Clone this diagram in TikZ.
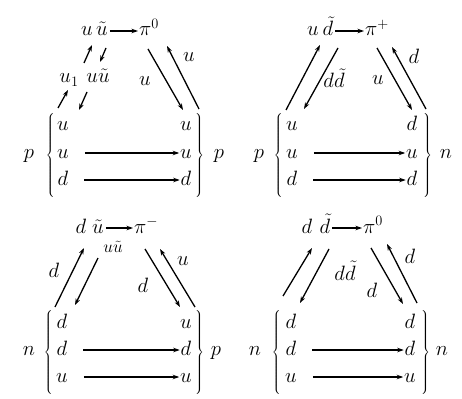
\documentclass[tikz,border=0pt]{standalone}
\usetikzlibrary{arrows.meta}
\newcommand\mylbr{$\left\{\vrule height 41pt depth 41pt width 0pt\right.$}
\newcommand\myrbr{$\left.\vrule height 41pt depth 41pt width 0pt\right\}$}
\begin{document}
\begin{tikzpicture}[x=1pt,y=-1pt,
  every node/.style={inner sep=0pt,outer sep=0pt},
  q/.style={anchor=base},
  qw/.style={anchor=base west},
  sm/.style={anchor=base,font=\fontsize{17.28}{20}\selectfont},
  brc/.style={font=\fontsize{11}{13}\selectfont},
  arr/.style={line width=1.3pt,-{Stealth[length=6.5pt,width=4.5pt]}},
  harr/.style={arr,shorten <=16pt,shorten >=1pt},
  tarr/.style={arr,shorten <=2pt,shorten >=1pt},
  font=\fontsize{20.74}{24}\selectfont]
\useasboundingbox (0,0) rectangle (462,398);

% ---------------- top-left panel ----------------
\node[q] (tlU) at (87,36) {$u$};
\node[q] (tlUt) at (102,36) {$\tilde u$};
\node[qw] (tlPi) at (139,36) {$\pi^0$};
\node[q] (tlU1) at (69,83) {$u_1$};
\node[q] (tlUU) at (98,83) {$u\tilde u$};
\node[q] (tlL1) at (63,131) {$u$};
\node[q] (tlL2) at (63,158) {$u$};
\node[q] (tlL3) at (63,185) {$d$};
\node[q] (tlR1) at (186,131) {$u$};
\node[q] (tlR2) at (186,158) {$u$};
\node[q] (tlR3) at (186,185) {$d$};
\node[brc] (tlBl) at (51,156) {\mylbr};
\node[brc] (tlBr) at (199,156) {\myrbr};
\node[q] (tlP) at (29,158) {$p$};
\node[q] (tlP2) at (219,158) {$p$};
\node[q] (tlLa) at (145,86) {$u$};
\node[q] (tlLb) at (189,62) {$u$};
\coordinate (tla1s) at (58,108); \coordinate (tla1e) at (68,90);
\coordinate (tla2s) at (87,92);  \coordinate (tla2e) at (79,110);
\coordinate (tla3s) at (84,63);  \coordinate (tla3e) at (92,45);
\coordinate (tla4s) at (106,48); \coordinate (tla4e) at (100,62);
\coordinate (tla5s) at (148,49); \coordinate (tla5e) at (183,110);
\coordinate (tla6s) at (199,109); \coordinate (tla6e) at (167,46);
\draw[arr] (tla1s) -- (tla1e);
\draw[arr] (tla2s) -- (tla2e);
\draw[arr] (tla3s) -- (tla3e);
\draw[arr] (tla4s) -- (tla4e);
\draw[arr] (tla5s) -- (tla5e);
\draw[arr] (tla6s) -- (tla6e);
\draw[tarr] ([yshift=5pt]tlUt.base east) -- ([yshift=5pt]tlPi.base west);
\draw[harr] ([yshift=5pt]tlL2.base east) -- ([yshift=5pt]tlR2.base west);
\draw[harr] ([yshift=5pt]tlL3.base east) -- ([yshift=5pt]tlR3.base west);

% ---------------- top-right panel ----------------
\node[q] (trU) at (313,36) {$u$};
\node[q] (trDt) at (328,36) {$\tilde d$};
\node[qw] (trPi) at (365,36) {$\pi^+$};
\node[q] (trDD) at (334,88) {$d\tilde d$};
\node[q] (trLu) at (378,85) {$u$};
\node[q] (trLd) at (414,64) {$d$};
\node[q] (trL1) at (292,131) {$u$};
\node[q] (trL2) at (292,158) {$u$};
\node[q] (trL3) at (292,185) {$d$};
\node[q] (trR1) at (412,131) {$d$};
\node[q] (trR2) at (412,158) {$u$};
\node[q] (trR3) at (412,185) {$d$};
\node[brc] (trBl) at (279,156) {\mylbr};
\node[brc] (trBr) at (427,156) {\myrbr};
\node[q] (trP) at (259,158) {$p$};
\node[q] (trN) at (446,158) {$n$};
\coordinate (trb1s) at (286,110); \coordinate (trb1e) at (320,45);
\coordinate (trb2s) at (338,48);  \coordinate (trb2e) at (304,109);
\coordinate (trb3s) at (377,48);  \coordinate (trb3e) at (412,110);
\coordinate (trb4s) at (426,109); \coordinate (trb4e) at (392,47);
\draw[arr] (trb1s) -- (trb1e);
\draw[arr] (trb2s) -- (trb2e);
\draw[arr] (trb3s) -- (trb3e);
\draw[arr] (trb4s) -- (trb4e);
\draw[tarr] ([yshift=5pt]trDt.base east) -- ([yshift=5pt]trPi.base west);
\draw[harr] ([yshift=5pt]trL2.base east) -- ([yshift=5pt]trR2.base west);
\draw[harr] ([yshift=5pt]trL3.base east) -- ([yshift=5pt]trR3.base west);

% ---------------- bottom-left panel ----------------
\node[q] (blD) at (81,233) {$d$};
\node[q] (blUt) at (98,233) {$\tilde u$};
\node[qw] (blPi) at (134,233) {$\pi^-$};
\node[sm] (blUU) at (113,252) {$u\tilde u$};
\node[q] (blLa) at (54,277) {$d$};
\node[q] (blLb) at (143,292) {$d$};
\node[q] (blLc) at (183,265) {$u$};
\node[q] (blL1) at (62,328) {$d$};
\node[q] (blL2) at (62,355) {$d$};
\node[q] (blL3) at (62,382) {$u$};
\node[q] (blR1) at (186,328) {$u$};
\node[q] (blR2) at (186,355) {$d$};
\node[q] (blR3) at (186,382) {$u$};
\node[brc] (blBl) at (49,353) {\mylbr};
\node[brc] (blBr) at (199,353) {\myrbr};
\node[q] (blN) at (29,355) {$n$};
\node[q] (blP) at (216,355) {$p$};
\coordinate (blc1s) at (55,307);  \coordinate (blc1e) at (84,248);
\coordinate (blc2s) at (98,258);  \coordinate (blc2e) at (75,305);
\coordinate (blc3s) at (145,249); \coordinate (blc3e) at (180,307);
\coordinate (blc4s) at (195,307); \coordinate (blc4e) at (160,249);
\draw[arr] (blc1s) -- (blc1e);
\draw[arr] (blc2s) -- (blc2e);
\draw[arr] (blc3s) -- (blc3e);
\draw[arr] (blc4s) -- (blc4e);
\draw[tarr] ([yshift=5pt]blUt.base east) -- ([yshift=5pt]blPi.base west);
\draw[harr] ([yshift=5pt]blL2.base east) -- ([yshift=5pt]blR2.base west);
\draw[harr] ([yshift=5pt]blL3.base east) -- ([yshift=5pt]blR3.base west);

% ---------------- bottom-right panel ----------------
\node[q] (brD) at (307,233) {$d$};
\node[q] (brDt) at (325,233) {$\tilde d$};
\node[qw] (brPi) at (363,233) {$\pi^0$};
\node[q] (brDD) at (345,280) {$d\tilde d$};
\node[q] (brLa) at (372,297) {$d$};
\node[q] (brLb) at (410,263) {$d$};
\node[q] (brL1) at (291,328) {$d$};
\node[q] (brL2) at (291,355) {$d$};
\node[q] (brL3) at (291,382) {$u$};
\node[q] (brR1) at (410,328) {$d$};
\node[q] (brR2) at (410,355) {$d$};
\node[q] (brR3) at (410,382) {$u$};
\node[brc] (brBl) at (277,353) {\mylbr};
\node[brc] (brBr) at (425,353) {\myrbr};
\node[q] (brN) at (255,355) {$n$};
\node[q] (brN2) at (442,355) {$n$};
\coordinate (brd1s) at (283,296); \coordinate (brd1e) at (312,248);
\coordinate (brd2s) at (329,249); \coordinate (brd2e) at (300,303);
\coordinate (brd3s) at (371,248); \coordinate (brd3e) at (403,304);
\coordinate (brd4s) at (417,303); \coordinate (brd4e) at (387,244);
\draw[arr] (brd1s) -- (brd1e);
\draw[arr] (brd2s) -- (brd2e);
\draw[arr] (brd3s) -- (brd3e);
\draw[arr] (brd4s) -- (brd4e);
\draw[tarr] ([yshift=5pt]brDt.base east) -- ([yshift=5pt]brPi.base west);
\draw[harr] ([yshift=5pt]brL2.base east) -- ([yshift=5pt]brR2.base west);
\draw[harr] ([yshift=5pt]brL3.base east) -- ([yshift=5pt]brR3.base west);
\end{tikzpicture}
\end{document}
